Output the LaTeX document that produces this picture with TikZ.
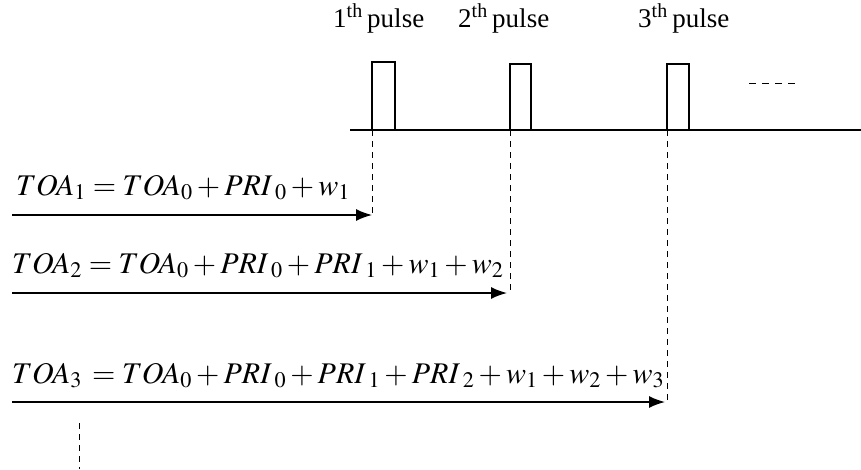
\documentclass[tikz,border=0pt]{standalone}
\usepackage{mathptmx}
\usepackage{fontspec}
\setmainfont{Liberation Serif}
\usetikzlibrary{arrows.meta}
\newcommand{\gsub}[1]{_{\hspace{5pt}#1}}
\begin{document}
\begin{tikzpicture}[x=1pt,y=-1pt,
  axis/.style={line width=1.3pt},
  pulsebox/.style={line width=1.3pt},
  guide/.style={line width=1pt,dash pattern=on 6pt off 5pt},
  toa/.style={line width=1.5pt,-{Latex[length=16pt,width=12pt]}},
  formula/.style={anchor=base west,inner sep=0pt,font=\fontsize{30}{36}\selectfont},
  plabel/.style={anchor=base west,inner sep=0pt,font=\fontsize{27}{30}\selectfont}]
\useasboundingbox (0,0) rectangle (861,469);
% time axis
\coordinate (axL) at (350,130);
\coordinate (axR) at (861,130);
\draw[axis] (axL) -- (axR);
% pulses
\coordinate (p1) at (372,130); \coordinate (p1r) at (395,130);
\coordinate (p2) at (510,130); \coordinate (p2r) at (531,130);
\coordinate (p3) at (667,130); \coordinate (p3r) at (689,130);
\draw[pulsebox] (p1) -- ++(0,-68) -| (p1r);
\draw[pulsebox] (p2) -- ++(0,-66) -| (p2r);
\draw[pulsebox] (p3) -- ++(0,-66) -| (p3r);
\coordinate (dotsL) at (749,83); \coordinate (dotsR) at (797,83);
\draw[line width=1pt,dash pattern=on 7pt off 6pt] (dotsL) -- (dotsR);
% labels
\node[plabel] (l1) at (333,27) {1\textsuperscript{th}\,pulse};
\node[plabel] (l2) at (458,27) {2\textsuperscript{th}\,pulse};
\node[plabel] (l3) at (638,27) {3\textsuperscript{th}\,pulse};
% arrows
\coordinate (a1s) at (12,215); \coordinate (a1e) at (372,215);
\coordinate (a2s) at (12,293); \coordinate (a2e) at (507,293);
\coordinate (a3s) at (12,402); \coordinate (a3e) at (665,402);
\draw[toa] (a1s) -- (a1e);
\draw[toa] (a2s) -- (a2e);
\draw[toa] (a3s) -- (a3e);
% guides
\coordinate (g2) at (510,290);
\coordinate (g3) at (667,402);
\draw[guide] (p1) -- (a1e);
\draw[guide] (p2) -- (g2);
\draw[guide] (p3) -- (g3);
\coordinate (b1) at (79,423); \coordinate (b2) at (79,469);
\draw[guide] (b1) -- (b2);
% formulas
\node[formula] (f1) at (16,195) {$TOA_1 = TOA_0 + PRI\gsub{0} + w_1$};
\node[formula] (f2) at (12,273) {$TOA_2 = TOA_0 + PRI\gsub{0} + PRI\gsub{1} + w_1 + w_2$};
\node[formula] (f3) at (12,383) {$TOA_3 \,= TOA_0 + PRI\gsub{0} + PRI\gsub{1} + PRI\gsub{2} + w_1 + w_2 + w_3$};
\end{tikzpicture}
\end{document}
